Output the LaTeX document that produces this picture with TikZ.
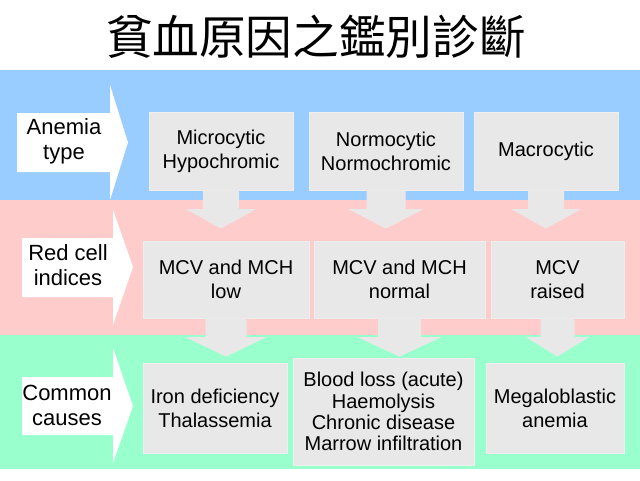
\documentclass[tikz,border=0pt]{standalone}
\usepackage{fontspec}
\setmainfont{Liberation Sans}
\newfontfamily\cjk{Noto Sans CJK TC}
\usetikzlibrary{calc}
\definecolor{bandblue}{HTML}{99CCFF}
\definecolor{bandpink}{HTML}{FFCCCC}
\definecolor{bandgreen}{HTML}{99FFCC}
\definecolor{boxgray}{HTML}{E8E8E8}
\definecolor{boxedge}{HTML}{EEEEEE}
\tikzset{
  cellbox/.style={fill=boxgray, draw=boxedge, line width=0.6pt, inner sep=0pt, align=center,
    font=\fontsize{15}{18}\selectfont},
  lbl/.style={inner sep=0pt, align=center, font=\fontsize{16.5}{18.75}\selectfont},
}
% #1 source, #2 target, #3 half shaft, #4 half head, #5 gap tip-to-target
\newcommand\dnarrow[5]{%
  \fill[boxgray] ($(#1.south)+(-#3,0)$) -- ($(#1.south |- #2.north)+(-#3,-#5-19.5)$)
    -- ($(#1.south |- #2.north)+(-#4,-#5-19.5)$) -- ($(#1.south |- #2.north)+(0,-#5)$)
    -- ($(#1.south |- #2.north)+(#4,-#5-19.5)$) -- ($(#1.south |- #2.north)+(#3,-#5-19.5)$)
    -- ($(#1.south)+(#3,0)$) -- cycle;}
\begin{document}
\begin{tikzpicture}[x=0.75pt,y=-0.75pt]
\useasboundingbox (0,0) rectangle (640,480);
\fill[white] (0,0) rectangle (640,480);
% bands
\fill[bandblue] (0,70) rectangle (640,200);
\fill[bandpink] (0,200) rectangle (640,335);
\fill[bandgreen] (0,335) rectangle (640,469);
% title
\node[inner sep=0pt, font=\cjk\fontsize{35}{40}\selectfont] (title) at (316,37) {貧血原因之鑑別診斷};
% left arrows
\fill[white] (17,113) -- (110,113) -- (110,85) -- (128,142.5) -- (110,200) -- (110,172) -- (17,172) -- cycle;
\fill[white] (22,238) -- (113,238) -- (113,210) -- (133,267) -- (113,325) -- (113,297) -- (22,297) -- cycle;
\fill[white] (22,377) -- (113,377) -- (113,348) -- (133,406) -- (113,463) -- (113,435) -- (22,435) -- cycle;
\node[lbl] (lab1) at (64,141) {Anemia\\type};
\node[lbl] (lab2) at (68,265) {Red cell\\indices};
\node[lbl] (lab3) at (67,405) {Common\\causes};
% row 1
\node[cellbox, minimum width=108pt, minimum height=58.5pt] (a1) at (221,151) {Microcytic\\Hypochromic};
\node[cellbox, minimum width=115.5pt, minimum height=58.5pt] (a2) at (386,151) {Normocytic\\Normochromic};
\node[cellbox, minimum width=108pt, minimum height=58.5pt] (a3) at (546,151) {Macrocytic};
% row 2
\node[cellbox, minimum width=124.5pt, minimum height=57.75pt] (b1) at (226,279.5) {MCV and MCH\\low};
\node[cellbox, minimum width=128.25pt, minimum height=57.75pt] (b2) at (399.5,279.5) {MCV and MCH\\normal};
\node[cellbox, minimum width=99.75pt, minimum height=57.75pt] (b3) at (557.5,279.5) {MCV\\raised};
% row 3
\node[cellbox, minimum width=108pt, minimum height=67.5pt] (c1) at (215,408) {Iron deficiency\\Thalassemia};
\node[cellbox, minimum width=135.75pt, minimum height=80.25pt, font=\fontsize{15}{15.9}\selectfont] (c2) at (383.5,411.5) {Blood loss (acute)\\Haemolysis\\Chronic disease\\Marrow infiltration};
\node[cellbox, minimum width=103.5pt, minimum height=67.5pt] (c3) at (555,408) {Megaloblastic\\anemia};
% connectors
\dnarrow{a1}{b1}{18}{35}{12}
\dnarrow{a2}{b2}{19.5}{37.5}{12}
\dnarrow{a3}{b3}{18}{35}{12}
\dnarrow{b1}{c1}{20.5}{40.5}{6}
\dnarrow{b2}{c2}{21.5}{42}{1}
\dnarrow{b3}{c3}{17}{31.5}{6}
\end{tikzpicture}
\end{document}
